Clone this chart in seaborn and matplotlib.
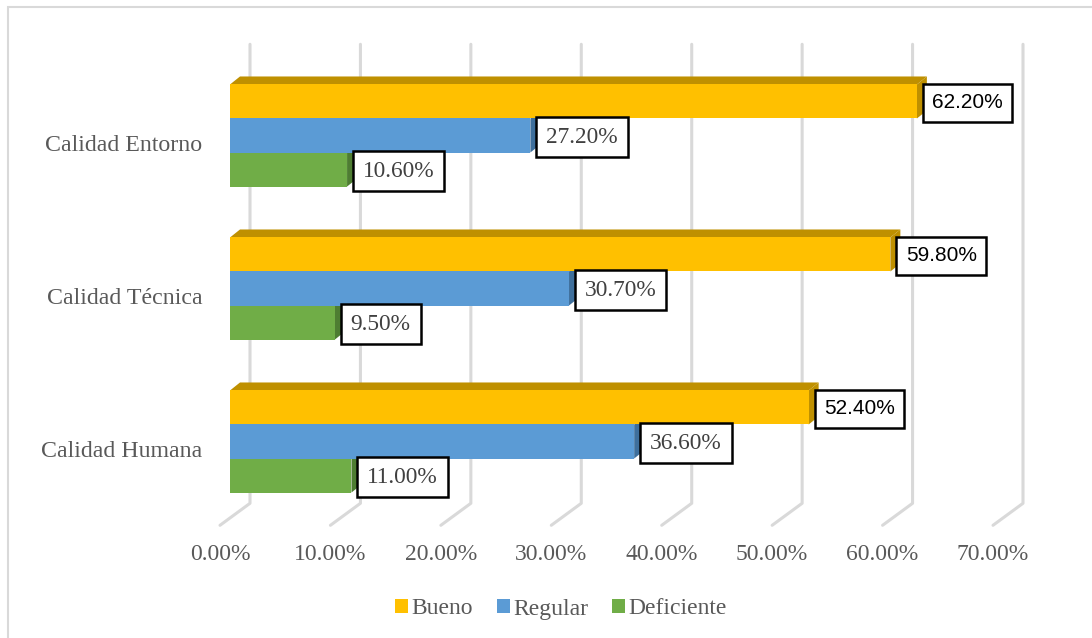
import numpy as np
import pandas as pd
import matplotlib
matplotlib.use("Agg")
import matplotlib.pyplot as plt
import matplotlib.transforms as mtrans
from matplotlib.patches import Polygon, Patch, Rectangle
from matplotlib.lines import Line2D
import seaborn as sns

categories = ["Calidad Entorno", "Calidad Técnica", "Calidad Humana"]
series = ["Bueno", "Regular", "Deficiente"]
bueno = [62.2, 59.8, 52.4]
regular = [27.2, 30.7, 36.6]
deficiente = [10.6, 9.5, 11.0]
xticks = [0, 10, 20, 30, 40, 50, 60, 70]
xtick_labels = ["0.00%", "10.00%", "20.00%", "30.00%", "40.00%", "50.00%", "60.00%", "70.00%"]

front_colors = {"Bueno": "#FFC000", "Regular": "#5B9BD5", "Deficiente": "#70AD47"}
side_colors = {"Bueno": "#BF9000", "Regular": "#3E6F9C", "Deficiente": "#4E7D32"}

df = pd.DataFrame({
    "cat": categories * 3,
    "serie": [s for s in series for _ in categories],
    "val": bueno + regular + deficiente,
})

sns.set_theme(style="white")
plt.rcParams["font.family"] = ["Liberation Serif", "DejaVu Serif"]

W, H = 1092, 638
fig = plt.figure(figsize=(W / 100, H / 100), dpi=100)
fig.patch.set_facecolor("white")
ax = fig.add_axes([230 / W, (H - 518) / H, 773 / W, 459 / H])
ax.patch.set_visible(False)

sns.barplot(data=df, y="cat", x="val", hue="serie", order=categories,
            hue_order=series, palette=front_colors, orient="h", width=0.667,
            saturation=1, legend=False, ax=ax, zorder=3, linewidth=0)

ax.set_xlim(0, 70)
ax.set_ylim(2.5, -0.5)
for s in ax.spines.values():
    s.set_visible(False)
ax.set_xticks([])
ax.set_xlabel("")
ax.set_ylabel("")
ax.set_yticks(range(len(categories)))
ax.set_yticklabels(categories, fontsize=17.2, color="#595959")
ax.tick_params(axis="y", length=0, pad=20)
ylab_off = mtrans.ScaledTranslation(0, -5.2 / 72, fig.dpi_scale_trans)
for lab in ax.get_yticklabels():
    lab.set_transform(lab.get_transform() + ylab_off)

fig.canvas.draw()
T = ax.transData
ID = mtrans.IdentityTransform()

# back-wall gridlines and floor lines
grid_c = "#D9D9D9"
for t in xticks:
    (xb, yb) = T.transform((t, 2.5))
    (xt, yt) = T.transform((t, -0.5))
    pts = np.array([(xb - 10, yb - 7.3), (xb + 20, yb + 14.7), (xt + 20, yt + 14.7)])
    ax.add_artist(Line2D(pts[:, 0], pts[:, 1], color=grid_c, lw=2.2,
                         transform=ID, zorder=1, clip_on=False))

# tick labels at front floor
for t, lab in zip(xticks, xtick_labels):
    (xb, yb) = T.transform((t, 2.5))
    ax.text(xb - 10, yb - 37, lab, ha="center", va="center", fontsize=17,
            color="#595959", transform=ID, clip_on=False)

# 3D faces from bars
dx, dy = 10, 8
for i, s in enumerate(series):
    bars = ax.containers[i]
    for patch in bars:
        x0 = patch.get_x()
        w = patch.get_width()
        y0 = patch.get_y()
        h = patch.get_height()
        (xl, ytop) = T.transform((x0, y0))
        (xr, ybot) = T.transform((x0 + w, y0 + h))
        side = [(xr, ybot), (xr, ytop), (xr + dx, ytop + dy), (xr + dx, ybot + dy)]
        ax.add_artist(Polygon(side, closed=True, facecolor=side_colors[s],
                              edgecolor="none", transform=ID, zorder=2, clip_on=False))
        if s == "Bueno":
            top = [(xl, ytop), (xr, ytop), (xr + dx, ytop + dy), (xl + dx, ytop + dy)]
            ax.add_artist(Polygon(top, closed=True, facecolor=side_colors[s],
                                  edgecolor="none", transform=ID, zorder=2, clip_on=False))
        txt = f"{w:.2f}%"
        if s == "Bueno":
            fam = ["Liberation Sans", "DejaVu Sans"]
            col = "black"
            fs = 15
            pad = 0.45
        else:
            fam = ["Liberation Serif", "DejaVu Serif"]
            col = "#404040"
            fs = 16.8
            pad = 0.42
        pad_px = pad * fs * 100 / 72
        (xa, ya) = T.transform((x0 + w, y0 + h / 2))
        ax.text(xa + 6 + pad_px, ya - 1.5, txt, ha="left", va="center", fontsize=fs,
                family=fam, color=col, zorder=6, transform=ID, clip_on=False,
                bbox=dict(boxstyle=f"square,pad={pad}", facecolor="white",
                          edgecolor="black", linewidth=1.8))

# outer border (top and left visible)
fig.add_artist(Rectangle((8 / W, -0.1), 1.2, (H - 7) / H + 0.1, fill=False,
                         edgecolor="#D9D9D9", linewidth=1.5,
                         transform=fig.transFigure, zorder=0))

handles = [Patch(facecolor=front_colors[s], edgecolor="none", label=s) for s in series]
fig.legend(handles=handles, loc="center", bbox_to_anchor=(561 / W, 1 - 609 / H),
           ncol=3, frameon=False, fontsize=17, handlelength=0.55,
           handleheight=0.55, handletextpad=0.15, columnspacing=1.0,
           labelcolor="#595959")

fig.savefig("out.png", dpi=100, facecolor="white")
